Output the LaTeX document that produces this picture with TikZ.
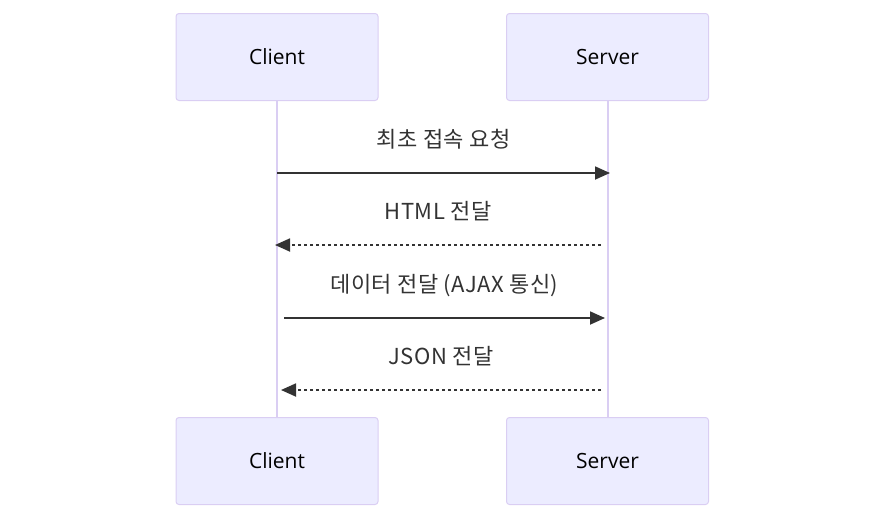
\documentclass[tikz,border=0pt]{standalone}
\usepackage{fontspec}
\setmainfont{Open Sans}
\newfontfamily\krfont[LetterSpace=2]{Noto Sans CJK KR}
\usepackage{tikz}
\definecolor{actorfill}{RGB}{236,236,255}
\definecolor{actorline}{RGB}{218,206,243}
\definecolor{msgline}{RGB}{51,51,51}
\usetikzlibrary{arrows.meta}
\tikzstyle{actor} = [rectangle, rounded corners=3pt, minimum width=202pt, minimum height=87pt, text centered, draw=actorline, fill=actorfill, line width=1pt, font=\fontsize{21}{25}\selectfont]
\tikzstyle{lifeline} = [draw=actorline, line width=2pt]
\tikzstyle{arrow} = [line width=1.8pt, draw=msgline, -{Triangle[length=15pt,width=13pt]}]
\tikzstyle{reply} = [arrow, dash pattern=on 3pt off 3pt]
\tikzstyle{msg} = [midway, anchor=base, yshift=25.5pt, text=msgline, font=\krfont\fontsize{22}{26}\selectfont]

\begin{document}
\begin{tikzpicture}[x=1pt, y=-1pt]
        \useasboundingbox (0,0) rectangle (885,520);

        \node (node0) [actor] at (277,57) {Client};
        \node (node1) [actor] at (607.5,57) {Server};
        \node (node2) [actor] at (277,461) {Client};
        \node (node3) [actor] at (607.5,461) {Server};

        \draw [lifeline] (node0) -- (node2);
        \draw [lifeline] (node1) -- (node3);

        \coordinate (c1) at (277,173);
        \coordinate (s1) at (610,173);
        \coordinate (s2) at (601,245);
        \coordinate (c2) at (275,245);
        \coordinate (c3) at (284,318);
        \coordinate (s3) at (605,318);
        \coordinate (s4) at (601,390);
        \coordinate (c4) at (281,390);

        \draw [arrow] (c1) --node[msg] {최초 접속 요청} (s1);
        \draw [reply] (s2) --node[msg] {HTML 전달} (c2);
        \draw [arrow] (c3) --node[msg] {데이터 전달 (AJAX 통신)} (s3);
        \draw [reply] (s4) --node[msg] {JSON 전달} (c4);
    \end{tikzpicture}
\end{document}
